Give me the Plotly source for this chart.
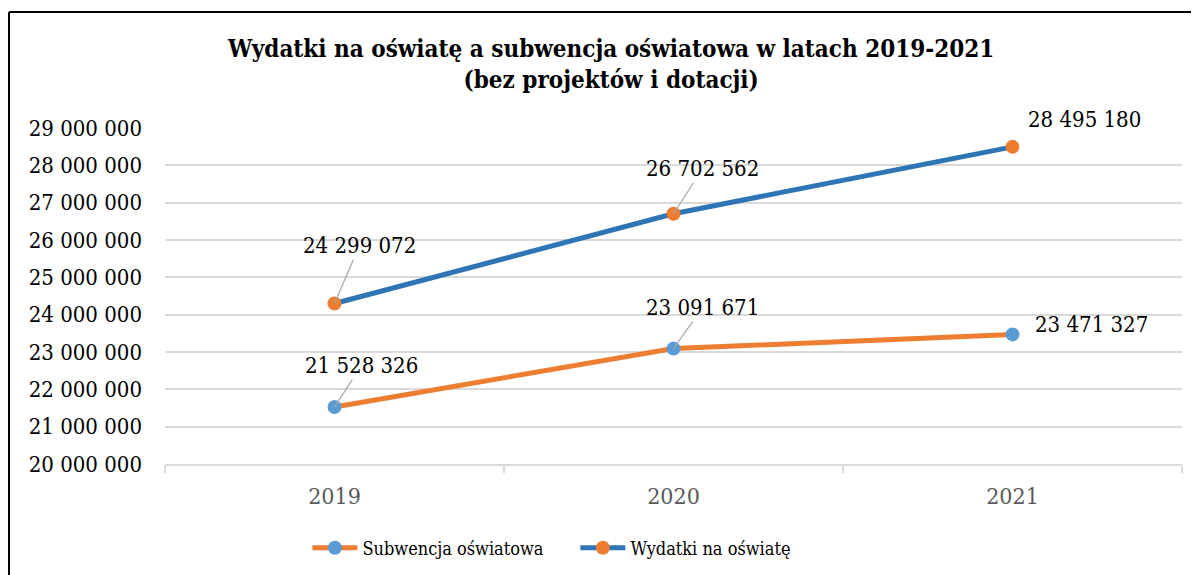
import plotly.graph_objects as go

years = ["2019", "2020", "2021"]
subwencja = [21528326, 23091671, 23471327]
wydatki = [24299072, 26702562, 28495180]
y_ticks = [20000000, 21000000, 22000000, 23000000, 24000000, 25000000, 26000000, 27000000, 28000000, 29000000]

FONT = "DejaVu Serif Condensed, DejaVu Serif, serif"

def fmt(v):
    return f"{v:,}".replace(",", " ")

fig = go.Figure()
fig.add_trace(go.Scatter(
    x=years, y=subwencja, name="Subwencja oświatowa", mode="lines+markers",
    line=dict(color="#ED7D31", width=5),
    marker=dict(color="#5B9BD5", size=14),
))
fig.add_trace(go.Scatter(
    x=years, y=wydatki, name="Wydatki na oświatę", mode="lines+markers",
    line=dict(color="#2E75B6", width=5),
    marker=dict(color="#ED7D31", size=14),
))

# data labels (x given as category index)
label_offsets_w = [(25, -58, True), (29, -45, True), (72, -27, False)]
label_offsets_s = [(27, -41, True), (29, -41, True), (79, -10, False)]
for series, offs in ((wydatki, label_offsets_w), (subwencja, label_offsets_s)):
    for i, (yv, (dx, dy, arrow)) in enumerate(zip(series, offs)):
        if arrow:
            fig.add_annotation(x=i, y=yv, xref="x", yref="y", text=fmt(yv), showarrow=True,
                               arrowhead=0, arrowwidth=1.2, arrowcolor="#A6A6A6",
                               ax=dx, ay=dy, standoff=0,
                               font=dict(family=FONT, size=22, color="black"))
        else:
            fig.add_annotation(x=i, y=yv, xref="x", yref="y", text=fmt(yv), showarrow=False,
                               xshift=dx, yshift=-dy,
                               font=dict(family=FONT, size=22, color="black"))

# title
fig.add_annotation(xref="paper", yref="paper", x=0.4376, y=1.19,
                   text="<b>Wydatki na oświatę a subwencja oświatowa w latach 2019-2021<br>(bez projektów i dotacji)</b>",
                   showarrow=False, xanchor="center", yanchor="middle",
                   font=dict(family=FONT, size=24, color="black"))

# outer border (left and top)
fig.add_shape(type="line", xref="paper", yref="paper", x0=-0.1534, x1=-0.1534, y0=1.345, y1=-0.4,
              line=dict(color="black", width=2))
fig.add_shape(type="line", xref="paper", yref="paper", x0=-0.1534, x1=1.05, y0=1.345, y1=1.345,
              line=dict(color="black", width=2))

fig.update_layout(
    width=1199, height=575,
    margin=dict(l=157, r=25, t=120, b=119),
    paper_bgcolor="white", plot_bgcolor="white",
    separators=", ",
    showlegend=True,
    legend=dict(orientation="h", x=0.14, xanchor="left", y=-0.25, yanchor="middle",
                font=dict(family=FONT, size=18, color="black"), itemwidth=45,
                entrywidth=208, entrywidthmode="pixels"),
    xaxis=dict(type="category", range=[-0.5, 2.5], showgrid=False,
               showline=True, linecolor="#D9D9D9", linewidth=2,
               ticks="outside", tickson="boundaries", ticklen=7, tickcolor="#D9D9D9", tickwidth=2,
               tickfont=dict(family=FONT, size=23, color="#595959"), ticklabelstandoff=10),
    yaxis=dict(range=[20000000, 29000000], tickvals=y_ticks, tickformat=",d",
               showgrid=True, gridcolor="#D9D9D9", gridwidth=2, zeroline=False, showline=False,
               tickfont=dict(family=FONT, size=22, color="black"), ticklabelstandoff=22),
)

fig.write_html("out.html")
